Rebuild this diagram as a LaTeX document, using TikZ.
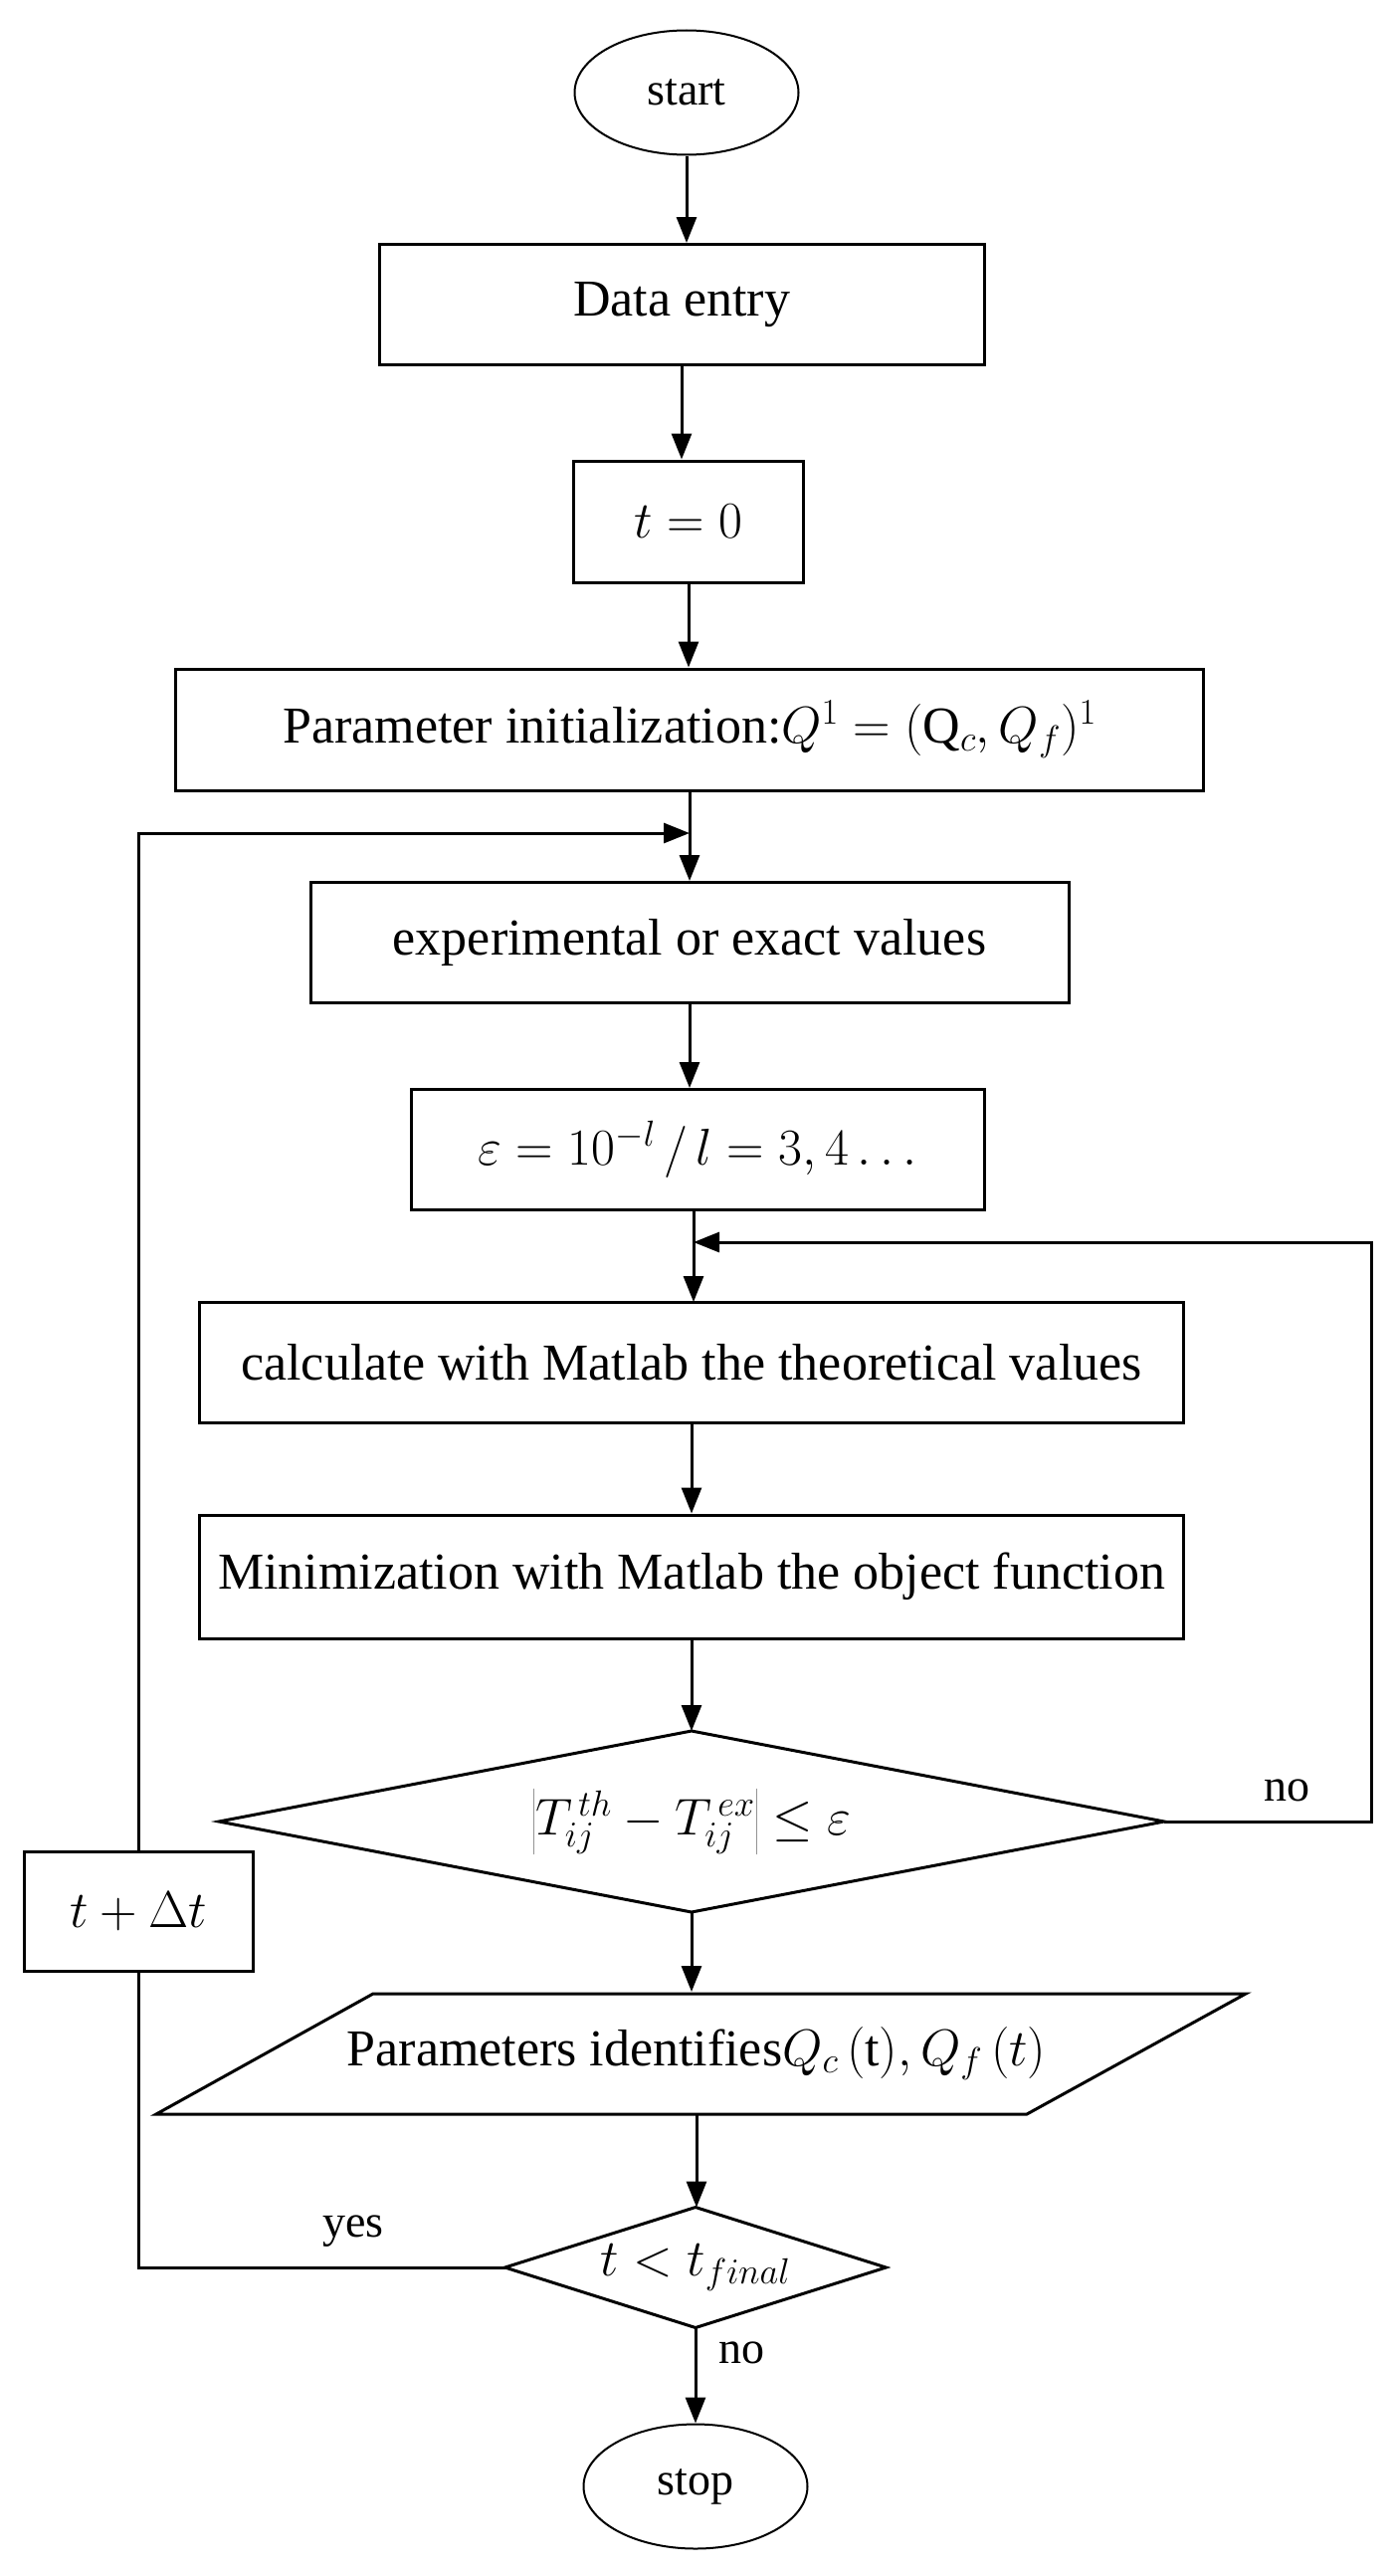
\RequirePackage{fix-cm}
\documentclass[tikz,border=0pt]{standalone}
\usepackage{fontspec}
\setmainfont{Liberation Serif}
\usetikzlibrary{shapes.geometric,arrows.meta}
\begin{document}
\begin{tikzpicture}[x=1pt,y=-1pt,line width=3pt,
  every node/.style={font=\fontsize{52}{60}\selectfont},
  box/.style={draw,rectangle,inner sep=0pt},
  ghost/.style={rectangle,inner sep=0pt},
  oval/.style={draw,ellipse,inner sep=0pt,minimum width=225pt,minimum height=125pt,line width=2pt,font=\fontsize{46}{54}\selectfont},
  arr/.style={-{Triangle[length=26pt,width=20pt]}},
  lbl/.style={inner sep=0pt,font=\fontsize{46}{54}\selectfont}]
\useasboundingbox (0,0) rectangle (1401,2588);
\node[oval] (start) at (690,93) {start};
\node[box,minimum width=608pt,minimum height=121pt] (data) at (685,306) {Data entry};
\node[box,minimum width=231pt,minimum height=122pt] (t0) at (692,524) {$t=0$};
\node[box,minimum width=1033pt,minimum height=122pt] (par0) at (693,733) {Parameter initialization:$Q^1=(\mathrm{Q}_c,Q_f)^1$};
\node[box,minimum width=762pt,minimum height=121pt] (exp) at (693,947) {experimental or exact values};
\node[box,minimum width=576pt,minimum height=121pt] (eps) at (701,1155) {$\varepsilon=10^{-l}\,/\,l=3,4\ldots$};
\node[box,minimum width=989pt,minimum height=121pt] (calc) at (695,1369) {calculate with Matlab the theoretical values};
\node[box,minimum width=989pt,minimum height=124pt] (min) at (695,1584) {Minimization with Matlab the object function};
\node[ghost,minimum width=947pt,minimum height=179pt] (test) at (695,1830) {$\left|T_{ij}^{\,th}-T_{ij}^{\,ex}\right|\le\varepsilon$};
\draw (test.west)--(test.north)--(test.east)--(test.south)--cycle;
\node[box,minimum width=230pt,minimum height=120pt] (dt) at (139,1920) {$t+\Delta t$};
\node[ghost,minimum width=877pt,minimum height=121pt] (ident) at (700,2063) {Parameters identifies$Q_c\,(\mathrm{t}),Q_f\,(t)$};
\draw (375,2003)--(1252,2003)--(1032,2124)--(157,2124)--cycle;
\node[ghost,minimum width=380pt,minimum height=118pt] (tf) at (699,2278) {$t<t_{final}$};
\draw (tf.west)--(tf.north)--(tf.east)--(tf.south)--cycle;
\node[oval] (stop) at (699,2498) {stop};
\coordinate (j1) at (693,837);
\coordinate (j2) at (697,1248);
\draw[arr] (start.south)--(start.south |- data.north);
\draw[arr] (data.south)--(data.south |- t0.north);
\draw[arr] (t0.south)--(t0.south |- par0.north);
\draw[arr] (par0.south)--(par0.south |- exp.north);
\draw[arr] (dt.north)--(dt.north |- j1)--(j1);
\draw[arr] (exp.south)--(exp.south |- eps.north);
\draw[arr] (697,1216)--(697,1308);
\draw[arr] (test.east)--(1378,1830)--(1378,1248)--(j2);
\draw[arr] (calc.south)--(calc.south |- min.north);
\draw[arr] (min.south)--(test.north);
\draw[arr] (test.south)--(test.south |- ident.north);
\draw[arr] (ident.south)--(ident.south |- tf.north);
\draw (tf.west)--(dt.south |- tf.west)--(dt.south);
\draw[arr] (tf.south)--(tf.south |- stop.north);
\node[lbl] (no1) at (1293,1799) {no};
\node[lbl] (yes) at (355,2242) {yes};
\node[lbl] (no2) at (745,2364) {no};
\end{tikzpicture}
\end{document}
